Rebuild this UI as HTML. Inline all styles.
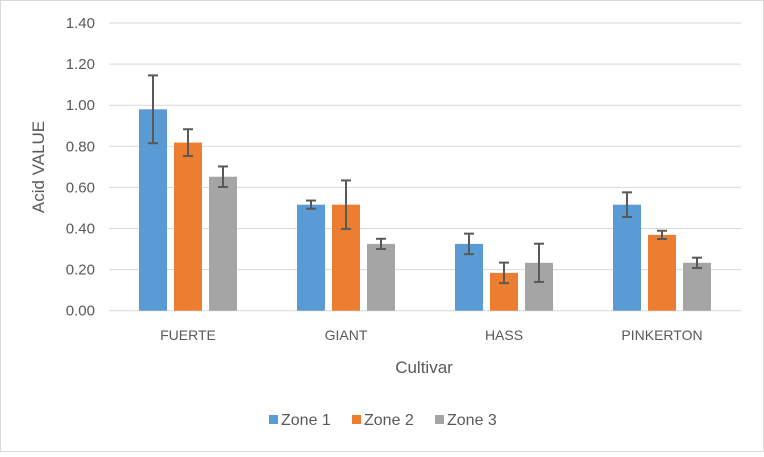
<!DOCTYPE html>
<html><head><meta charset="utf-8"><style>
body{margin:0;background:#fff}
svg text{font-family:"Liberation Sans",sans-serif;fill:#595959}
</style></head><body>
<svg width="764" height="452">
<rect x="0.5" y="0.5" width="763" height="451" fill="#fff" stroke="#d9d9d9"/>
<g id="grid"></g><g id="bars"></g>
<text x="44" y="167" font-size="17" text-anchor="middle" transform="rotate(-90 44 167)">Acid VALUE</text>
<text x="424" y="373" font-size="17" text-anchor="middle">Cultivar</text>
<g id="legend"></g>
</svg>
<script>
const categories=["FUERTE","GIANT","HASS","PINKERTON"];
const seriesNames=["Zone 1","Zone 2","Zone 3"];
const colors=["#5b9bd5","#ed7d31","#a5a5a5"];
const zone1=[0.98,0.516,0.325,0.516];
const zone2=[0.818,0.516,0.184,0.369];
const zone3=[0.652,0.325,0.233,0.233];
const err1=[0.165,0.02,0.05,0.06];
const err2=[0.065,0.118,0.05,0.02];
const err3=[0.05,0.025,0.093,0.025];
const yTicks=[0,0.2,0.4,0.6,0.8,1.0,1.2,1.4];
const NS="http://www.w3.org/2000/svg";
const x0=109,x1=741,y0=310.7,pxPerUnit=205.5;
const y=v=>y0-v*pxPerUnit;
const catW=(x1-x0)/categories.length;
const xc=i=>x0+catW*(i+0.5);
function mk(t,a,p){const e=document.createElementNS(NS,t);for(const k in a)e.setAttribute(k,a[k]);p.appendChild(e);return e;}
const grid=document.getElementById('grid'),bars=document.getElementById('bars'),leg=document.getElementById('legend');
yTicks.forEach(v=>{
 const l=mk('line',{x1:x0,x2:x1,y1:y(v),y2:y(v),stroke:'#d9d9d9','stroke-width':1},grid);
 
 
 const t=mk('text',{x:95,y:y(v)+5,'font-size':15,'text-anchor':'end'},grid);t.textContent=v.toFixed(2);
 
 
});
const vals=[zone1,zone2,zone3],errs=[err1,err2,err3];
const bw=28,gap=7;
categories.forEach((c,i)=>{
 const t=mk('text',{x:xc(i),y:340,'font-size':14,'text-anchor':'middle'},grid);t.textContent=c;
 
 
 vals.forEach((s,j)=>{
  const bx=xc(i)+(j-1)*(bw+gap)-bw/2;
  const r=mk('rect',{x:bx,y:y(s[i]),width:bw,height:y0-y(s[i]),fill:colors[j]},bars);
  
  
  const cx=bx+bw/2,e=errs[j][i];
  const g=mk('g',{stroke:'#595959','stroke-width':2},bars);
  
  
  mk('line',{x1:cx,x2:cx,y1:y(s[i]+e),y2:y(s[i]-e)},g);
  mk('line',{x1:cx-5,x2:cx+5,y1:y(s[i]+e),y2:y(s[i]+e)},g);
  mk('line',{x1:cx-5,x2:cx+5,y1:y(s[i]-e),y2:y(s[i]-e)},g);
 });
});
const lx=[269,352,435];
seriesNames.forEach((n,j)=>{
 const g=mk('g',{},leg);
 
 
 mk('rect',{x:lx[j],y:415,width:9,height:9,fill:colors[j]},g);
 const t=mk('text',{x:lx[j]+12,y:425,'font-size':16},g);t.textContent=n;
});
</script>
</body></html>
